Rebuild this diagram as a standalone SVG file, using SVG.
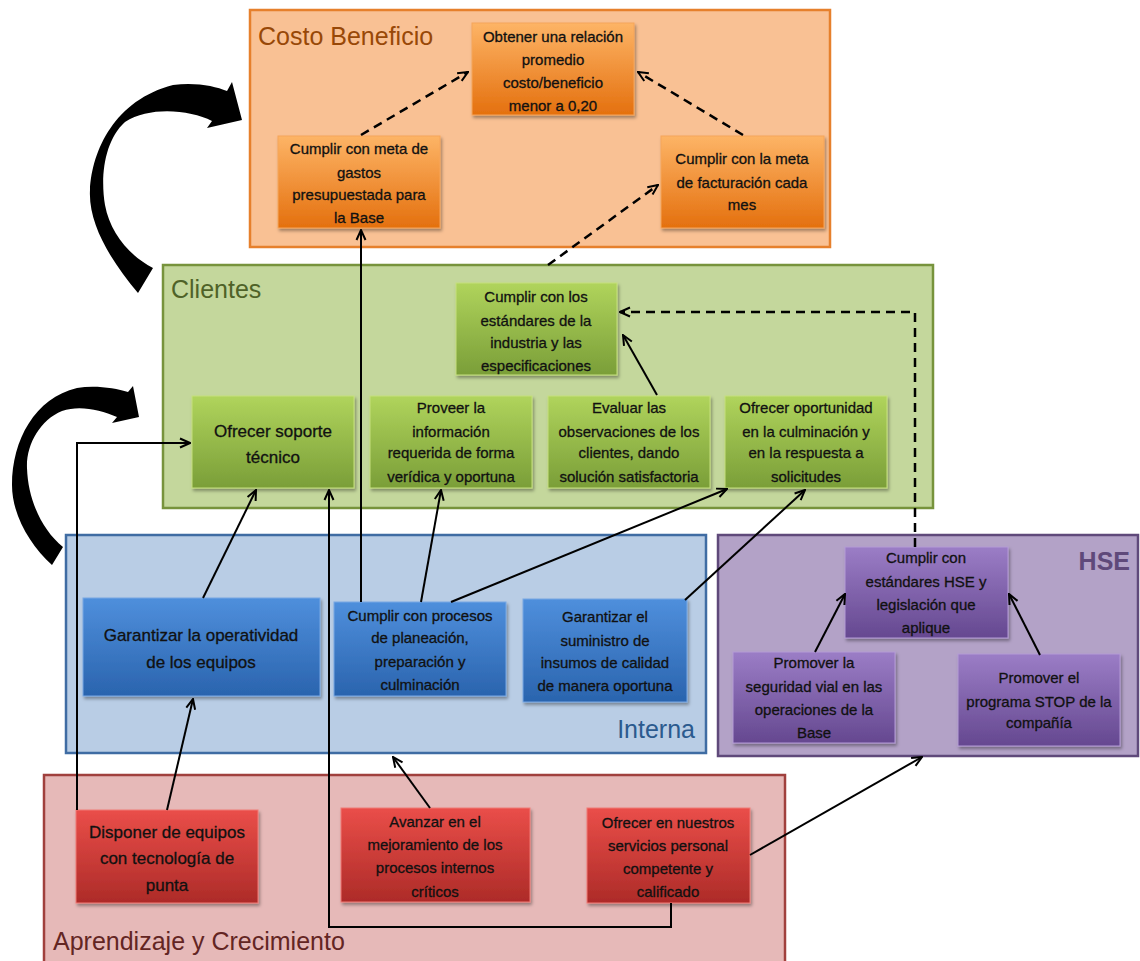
<svg xmlns="http://www.w3.org/2000/svg" width="1140" height="961" viewBox="0 0 1140 961">
<defs>
<linearGradient id="gO" x1="0" y1="0" x2="0" y2="1"><stop offset="0" stop-color="#fdb466"/><stop offset="1" stop-color="#e4700e"/></linearGradient>
<linearGradient id="gG" x1="0" y1="0" x2="0" y2="1"><stop offset="0" stop-color="#b0d45c"/><stop offset="1" stop-color="#7a9e38"/></linearGradient>
<linearGradient id="gB" x1="0" y1="0" x2="0" y2="1"><stop offset="0" stop-color="#4f8fdc"/><stop offset="1" stop-color="#2a64ae"/></linearGradient>
<linearGradient id="gP" x1="0" y1="0" x2="0" y2="1"><stop offset="0" stop-color="#9b7dc6"/><stop offset="1" stop-color="#654890"/></linearGradient>
<linearGradient id="gR" x1="0" y1="0" x2="0" y2="1"><stop offset="0" stop-color="#ea4e49"/><stop offset="1" stop-color="#ad2b28"/></linearGradient>
<filter id="sh" x="-10%" y="-10%" width="125%" height="130%"><feDropShadow dx="1.5" dy="2.5" stdDeviation="1.5" flood-color="#000" flood-opacity="0.35"/></filter>
<marker id="ah" viewBox="0 0 12 12" refX="11" refY="6" markerWidth="12" markerHeight="12" markerUnits="userSpaceOnUse" orient="auto">
<path d="M1,1.5 L11,6 L1,10.5" fill="none" stroke="#000" stroke-width="2"/>
</marker>
</defs>
<style>
.panel{stroke-width:2.5}
.node rect{filter:url(#sh);stroke-width:1}
.t{font-family:"Liberation Sans",Arial,sans-serif;font-size:15px;fill:#111;stroke:#111;stroke-width:0.3;text-anchor:middle}
.tb{font-size:17px}
.title{font-family:"Liberation Sans",Arial,sans-serif;font-size:25px}
.ln{fill:none;stroke:#000;stroke-width:2;marker-end:url(#ah)}
.ds{stroke-dasharray:9 6;stroke-width:2.5}
</style>
<rect width="1140" height="961" fill="#fff"/>

<g id="panels">
<g id="panel-costo"><rect class="panel" x="250" y="10" width="580" height="237" fill="#f9c194" stroke="#e6802c"/><text class="title" x="258" y="45" fill="#984807">Costo Beneficio</text></g>
<g id="panel-clientes"><rect class="panel" x="163" y="265" width="770" height="243" fill="#c4d79c" stroke="#77933c"/><text class="title" x="171" y="298" fill="#4f6228">Clientes</text></g>
<g id="panel-interna"><rect class="panel" x="66" y="535" width="640" height="218" fill="#b9cde5" stroke="#3f6ca3"/><text class="title" x="695" y="738" fill="#2b5a8e" text-anchor="end">Interna</text></g>
<g id="panel-hse"><rect class="panel" x="718" y="535" width="420" height="221" fill="#b3a2c7" stroke="#5f497a"/><text class="title" x="1130" y="570" fill="#5f497a" text-anchor="end" font-weight="bold" font-size="21">HSE</text></g>
<g id="panel-aprendizaje"><rect class="panel" x="44" y="775" width="741" height="195" fill="#e6b9b8" stroke="#a0403d"/><text class="title" x="53" y="950" fill="#632523" font-size="21">Aprendizaje y Crecimiento</text></g>
</g>

<g id="nodes">
<g id="n-obtener" class="node"><rect x="472" y="23" width="162" height="92" fill="url(#gO)" stroke="#f6a55a"/>
<text class="t"><tspan x="553" y="42">Obtener una relación</tspan><tspan x="553" y="65">promedio</tspan><tspan x="553" y="88">costo/beneficio</tspan><tspan x="553" y="111">menor a 0,20</tspan></text></g>
<g id="n-gastos" class="node"><rect x="278" y="136" width="162" height="92" fill="url(#gO)" stroke="#f6a55a"/>
<text class="t"><tspan x="359" y="154">Cumplir con meta de</tspan><tspan x="359" y="178">gastos</tspan><tspan x="359" y="200">presupuestada para</tspan><tspan x="359" y="223">la Base</tspan></text></g>
<g id="n-facturacion" class="node"><rect x="661" y="136" width="163" height="92" fill="url(#gO)" stroke="#f6a55a"/>
<text class="t"><tspan x="742" y="164">Cumplir con la meta</tspan><tspan x="742" y="188">de facturación cada</tspan><tspan x="742" y="210">mes</tspan></text></g>

<g id="n-estandares" class="node"><rect x="456" y="283" width="161" height="92" fill="url(#gG)" stroke="#c6e07e"/>
<text class="t"><tspan x="536" y="302">Cumplir con los</tspan><tspan x="536" y="326">estándares de la</tspan><tspan x="536" y="348">industria y las</tspan><tspan x="536" y="371">especificaciones</tspan></text></g>
<g id="n-soporte" class="node"><rect x="192" y="396" width="162" height="92" fill="url(#gG)" stroke="#c6e07e"/>
<text class="t tb"><tspan x="273" y="437">Ofrecer soporte</tspan><tspan x="273" y="463">técnico</tspan></text></g>
<g id="n-proveer" class="node"><rect x="370" y="396" width="162" height="92" fill="url(#gG)" stroke="#c6e07e"/>
<text class="t"><tspan x="451" y="413">Proveer la</tspan><tspan x="451" y="437">información</tspan><tspan x="451" y="458">requerida de forma</tspan><tspan x="451" y="482">verídica y oportuna</tspan></text></g>
<g id="n-evaluar" class="node"><rect x="548" y="396" width="162" height="92" fill="url(#gG)" stroke="#c6e07e"/>
<text class="t"><tspan x="629" y="413">Evaluar las</tspan><tspan x="629" y="437">observaciones de los</tspan><tspan x="629" y="458">clientes, dando</tspan><tspan x="629" y="482">solución satisfactoria</tspan></text></g>
<g id="n-oportunidad" class="node"><rect x="725" y="396" width="162" height="92" fill="url(#gG)" stroke="#c6e07e"/>
<text class="t"><tspan x="806" y="413">Ofrecer oportunidad</tspan><tspan x="806" y="437">en la culminación y</tspan><tspan x="806" y="458">en la respuesta a</tspan><tspan x="806" y="482">solicitudes</tspan></text></g>

<g id="n-operatividad" class="node"><rect x="83" y="598" width="237" height="98" fill="url(#gB)" stroke="#79a8e4"/>
<text class="t tb"><tspan x="201" y="641">Garantizar  la operatividad</tspan><tspan x="201" y="668">de los equipos</tspan></text></g>
<g id="n-procesos" class="node"><rect x="334" y="602" width="172" height="94" fill="url(#gB)" stroke="#79a8e4"/>
<text class="t"><tspan x="420" y="621">Cumplir con procesos</tspan><tspan x="420" y="643">de planeación,</tspan><tspan x="420" y="667">preparación y</tspan><tspan x="420" y="690">culminación</tspan></text></g>
<g id="n-suministro" class="node"><rect x="523" y="599" width="164" height="103" fill="url(#gB)" stroke="#79a8e4"/>
<text class="t"><tspan x="605" y="622">Garantizar el</tspan><tspan x="605" y="646">suministro de</tspan><tspan x="605" y="668">insumos de calidad</tspan><tspan x="605" y="691">de manera oportuna</tspan></text></g>

<g id="n-hse" class="node"><rect x="845" y="547" width="163" height="91" fill="url(#gP)" stroke="#b49bd6"/>
<text class="t"><tspan x="926" y="563">Cumplir con</tspan><tspan x="926" y="587">estándares HSE y</tspan><tspan x="926" y="610">legislación que</tspan><tspan x="926" y="633">aplique</tspan></text></g>
<g id="n-seguridad" class="node"><rect x="733" y="652" width="162" height="91" fill="url(#gP)" stroke="#b49bd6"/>
<text class="t"><tspan x="814" y="668">Promover la</tspan><tspan x="814" y="692">seguridad vial en las</tspan><tspan x="814" y="715">operaciones de la</tspan><tspan x="814" y="738">Base</tspan></text></g>
<g id="n-stop" class="node"><rect x="958" y="654" width="162" height="92" fill="url(#gP)" stroke="#b49bd6"/>
<text class="t"><tspan x="1039" y="683">Promover el</tspan><tspan x="1039" y="707">programa STOP de la</tspan><tspan x="1039" y="728">compañía</tspan></text></g>

<g id="n-disponer" class="node"><rect x="76" y="810" width="182" height="93" fill="url(#gR)" stroke="#f07a76"/>
<text class="t tb"><tspan x="167" y="838">Disponer de equipos</tspan><tspan x="167" y="864">con tecnología de</tspan><tspan x="167" y="891">punta</tspan></text></g>
<g id="n-avanzar" class="node"><rect x="341" y="808" width="189" height="94" fill="url(#gR)" stroke="#f07a76"/>
<text class="t"><tspan x="435" y="827">Avanzar en el</tspan><tspan x="435" y="850">mejoramiento de los</tspan><tspan x="435" y="873">procesos internos</tspan><tspan x="435" y="897">críticos</tspan></text></g>
<g id="n-personal" class="node"><rect x="587" y="808" width="163" height="95" fill="url(#gR)" stroke="#f07a76"/>
<text class="t"><tspan x="668" y="828">Ofrecer en nuestros</tspan><tspan x="668" y="851">servicios personal</tspan><tspan x="668" y="874">competente y</tspan><tspan x="668" y="897">calificado</tspan></text></g>
</g>

<g id="connectors">
<path class="ln ds" d="M361,135 L468,72"/>
<path class="ln ds" d="M743,135 L638,72"/>
<path class="ln ds" d="M548,265 L658,185"/>
<path class="ln ds" d="M915,547 L915,312 L620,312"/>
<path class="ln" d="M657,395 L623,335"/>
<path class="ln" d="M361,602 L361,230"/>
<path class="ln" d="M421,602 L441,490"/>
<path class="ln" d="M451,602 L727,489"/>
<path class="ln" d="M685,600 L805,490"/>
<path class="ln" d="M203,598 L256,490"/>
<path class="ln" d="M167,810 L193,699"/>
<path class="ln" d="M77,810 L77,443 L190,443"/>
<path class="ln" d="M671,903 L671,927 L329,927 L329,490"/>
<path class="ln" d="M430,808 L393,757"/>
<path class="ln" d="M750,855 L922,757"/>
<path class="ln" d="M815,652 L845,594"/>
<path class="ln" d="M1040,655 L1009,594"/>
<path d="M138,293 C112,262 88,225 90,190 C92,150 115,100 173,85 C195,82 215,86 227,91 L232,82 L242,120 L207,128 L212,121 C190,110 150,106 125,122 C105,140 100,175 105,205 C110,232 128,255 153,268 Z" fill="#000"/>
<path d="M52,565 C30,545 12,515 12,485 C12,440 35,398 77,388 C95,385 115,388 128,392 L133,386 L139,417 L112,423 L117,417 C100,410 80,405 62,411 C40,420 26,445 27,468 C28,500 42,530 63,547 Z" fill="#000"/>
</g>
</svg>
